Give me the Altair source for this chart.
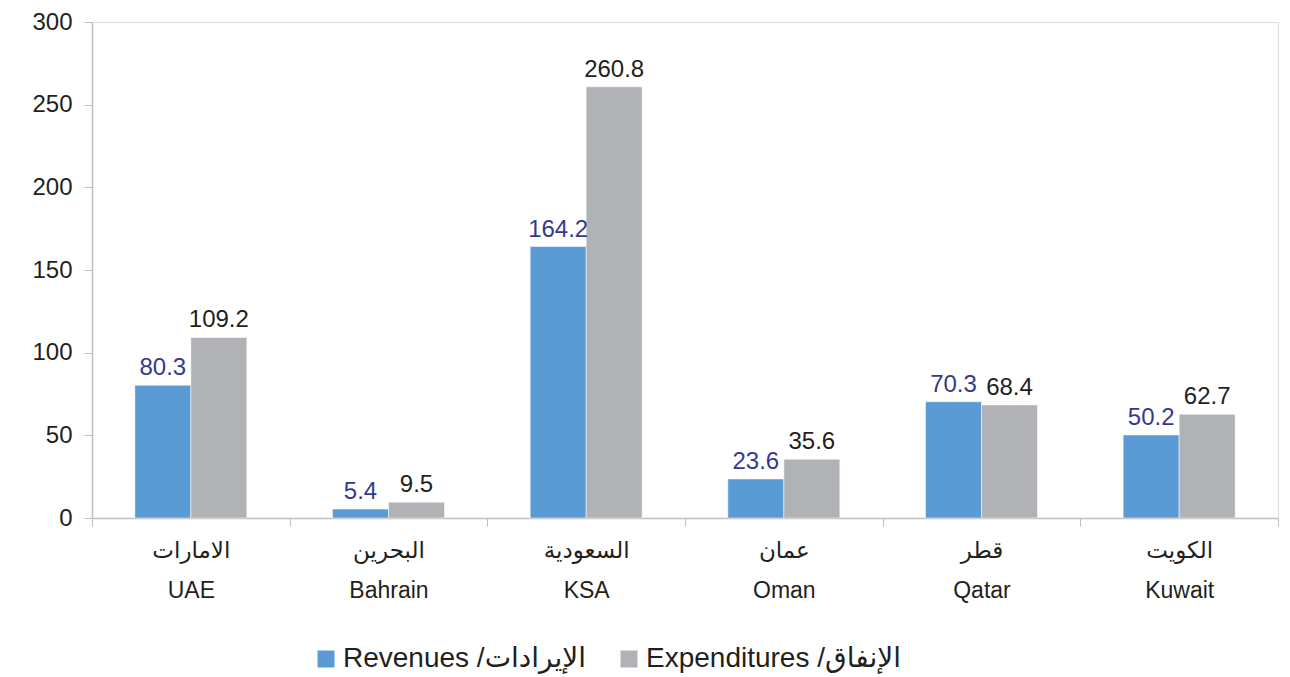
import altair as alt
import pandas as pd

countries = ["الامارات|UAE", "البحرين|Bahrain", "السعودية|KSA", "عمان|Oman", "قطر|Qatar", "الكويت|Kuwait"]
revenues = [80.3, 5.4, 164.2, 23.6, 70.3, 50.2]
expenditures = [109.2, 9.5, 260.8, 35.6, 68.4, 62.7]
series = ["Revenues /الإيرادات", "Expenditures /الإنفاق"]
colors = ["#5B9BD5", "#B1B2B6"]
label_colors = ["#333A8E", "#231F20"]

rows = []
for i, c in enumerate(countries):
    rows.append({"country": c, "series": series[0], "value": revenues[i], "lc": label_colors[0]})
    rows.append({"country": c, "series": series[1], "value": expenditures[i], "lc": label_colors[1]})
df = pd.DataFrame(rows)

FONT = "Liberation Sans, DejaVu Sans"

x = alt.X("country:N", sort=countries,
          scale=alt.Scale(paddingInner=0, paddingOuter=0),
          axis=alt.Axis(title=None, labelAngle=0, labelExpr="split(datum.label, '|')",
                        labelFontSize=23, labelFont=FONT, labelColor="#231F20",
                        labelLineHeight=40, labelPadding=13, labelBaseline="top",
                        tickBand="extent", tickSize=8, tickColor="#BFBFBF",
                        domainColor="#BFBFBF", domainWidth=1.5))
xo = alt.XOffset("series:N", sort=series,
                 scale=alt.Scale(paddingInner=0, paddingOuter=0.765))
y = alt.Y("value:Q", scale=alt.Scale(domain=[0, 300]),
          axis=alt.Axis(title=None, values=[0, 50, 100, 150, 200, 250, 300], grid=False,
                        labelFontSize=24, labelFont=FONT, labelColor="#231F20",
                        labelPadding=12, tickSize=8, tickColor="#BFBFBF",
                        domainColor="#BFBFBF", domainWidth=1.5))

bars = alt.Chart(df).mark_bar(stroke="white", strokeWidth=0.5).encode(
    x=x, xOffset=xo, y=y,
    color=alt.Color("series:N", sort=series,
                    scale=alt.Scale(domain=series, range=colors),
                    legend=alt.Legend(title=None, orient="none", legendX=220, legendY=623,
                                      direction="horizontal", symbolType="square",
                                      symbolSize=289, symbolStrokeWidth=0,
                                      labelFontSize=28, labelFont=FONT, labelColor="#231F20",
                                      labelOffset=3, columnPadding=28, labelLimit=400)),
)

texts = alt.Chart(df).mark_text(baseline="alphabetic", dy=-10, fontSize=24, font=FONT).encode(
    x=x, xOffset=xo, y=y,
    text=alt.Text("value:Q", format=".1f"),
    color=alt.Color("lc:N", scale=None),
)

chart = alt.layer(bars, texts).properties(
    width=1186, height=496,
    autosize=alt.AutoSizeParams(type="none"),
    padding={"left": 84, "top": 14, "right": 4, "bottom": 158},
).configure_view(stroke=None).configure(background="white")

chart.save("out.html", embed_options={"renderer": "svg", "actions": False})
